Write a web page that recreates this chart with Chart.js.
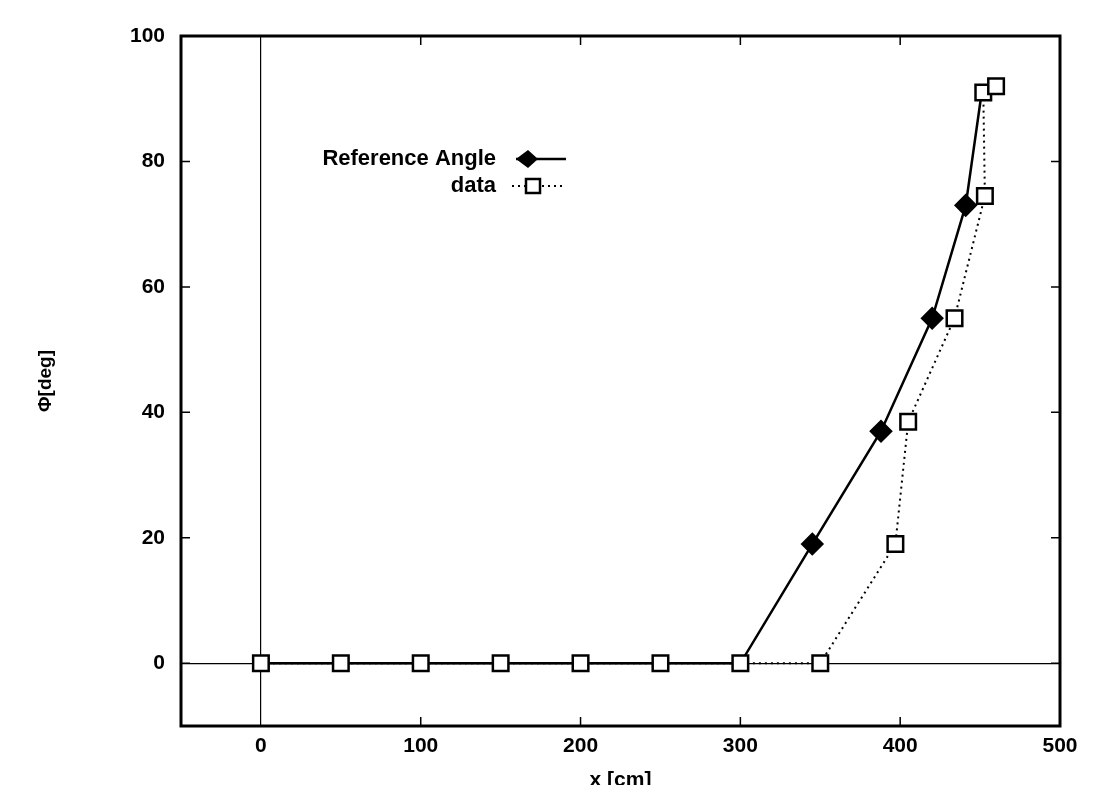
<!DOCTYPE html>
<html>
<head>
<meta charset="utf-8">
<script src="https://cdn.jsdelivr.net/npm/chart.js@4.4.1/dist/chart.umd.min.js"></script>
<style>
  html, body { margin: 0; padding: 0; background: #fff; }
  #wrap { width: 1109px; height: 785px; }
</style>
</head>
<body>
<div id="wrap"><canvas id="chart" width="1109" height="785"></canvas></div>
<script>
// Values
const refX = [0, 50, 100, 150, 200, 250, 300, 345, 388, 420, 441, 451, 459];
const refY = [0, 0, 0, 0, 0, 0, 0, 19, 37, 55, 73, 91, 92];
const dataX = [0, 50, 100, 150, 200, 250, 300, 350, 397, 405, 434, 453, 452, 460];
const dataY = [0, 0, 0, 0, 0, 0, 0, 0, 19, 38.5, 55, 74.5, 91, 92];
const xTicks = [0, 100, 200, 300, 400, 500];
const yTicks = [0, 20, 40, 60, 80, 100];

const font = "'Liberation Sans', Arial, sans-serif";

// frame + inward tick marks
const framePlugin = {
    id: "frame",
    afterDraw(chart) {
        const { ctx, chartArea: a, scales } = chart;
        ctx.save();
        ctx.strokeStyle = "#000";
        ctx.lineWidth = 1.5;
        xTicks.forEach(v => {
            const px = scales.x.getPixelForValue(v);
            if (v === 0 || v === 500) return;
            ctx.beginPath();
            ctx.moveTo(px, a.bottom); ctx.lineTo(px, a.bottom - 9);
            ctx.moveTo(px, a.top); ctx.lineTo(px, a.top + 9);
            ctx.stroke();
        });
        yTicks.forEach(v => {
            const py = scales.y.getPixelForValue(v);
            if (v === 100) return;
            ctx.beginPath();
            ctx.moveTo(a.left, py); ctx.lineTo(a.left + 9, py);
            ctx.moveTo(a.right, py); ctx.lineTo(a.right - 9, py);
            ctx.stroke();
        });
        ctx.lineWidth = 3;
        ctx.strokeRect(a.left, a.top, a.right - a.left, a.bottom - a.top);
        ctx.restore();
    }
};

// legend inside the plot, text first then sample
const legendPlugin = {
    id: "innerLegend",
    afterDraw(chart) {
        const { ctx } = chart;
        ctx.save();
        ctx.font = "bold 22px " + font;
        ctx.fillStyle = "#000";
        ctx.textAlign = "right";
        ctx.textBaseline = "middle";
        ctx.fillText("Reference Angle", 496, 159);
        ctx.fillText("data", 496, 186);

        ctx.strokeStyle = "#000";
        ctx.lineWidth = 2.5;
        ctx.beginPath();
        ctx.moveTo(516, 159); ctx.lineTo(566, 159);
        ctx.stroke();
        ctx.beginPath();
        ctx.moveTo(528, 150); ctx.lineTo(538, 159); ctx.lineTo(528, 168); ctx.lineTo(516, 159);
        ctx.closePath();
        ctx.fill();

        ctx.lineWidth = 2;
        ctx.setLineDash([2, 4]);
        ctx.beginPath();
        ctx.moveTo(512, 186); ctx.lineTo(566, 186);
        ctx.stroke();
        ctx.setLineDash([]);
        ctx.fillStyle = "#fff";
        ctx.lineWidth = 2.5;
        ctx.fillRect(526, 179, 14, 14);
        ctx.strokeRect(526, 179, 14, 14);
        ctx.restore();
    }
};

new Chart(document.getElementById("chart"), {
    type: "line",
    data: {
        datasets: [
            {
                label: "data",
                data: dataX.map((x, i) => ({ x, y: dataY[i] })),
                borderColor: "#000",
                borderWidth: 2,
                borderDash: [2, 4],
                pointStyle: "rect",
                pointRadius: 11,
                pointBorderWidth: 2.5,
                pointBackgroundColor: "#fff",
                pointBorderColor: "#000",
                order: 0
            },
            {
                label: "Reference Angle",
                data: refX.map((x, i) => ({ x, y: refY[i] })),
                borderColor: "#000",
                borderWidth: 2.5,
                pointStyle: "rectRot",
                pointRadius: refY.map(v => v > 0 && v < 90 ? 10 : 0),
                pointBackgroundColor: "#000",
                pointBorderColor: "#000",
                order: 1
            }
        ]
    },
    options: {
        responsive: false,
        animation: false,
        layout: { padding: { top: 36, right: 49, left: 0, bottom: 0 } },
        plugins: { legend: { display: false }, tooltip: { enabled: false } },
        scales: {
            x: {
                type: "linear",
                min: -50,
                max: 500,
                afterBuildTicks: s => { s.ticks = xTicks.map(v => ({ value: v })); },
                afterFit: s => { s.height = 59; },
                grid: {
                    color: c => c.tick && c.tick.value === 0 ? "#000" : "rgba(0,0,0,0)",
                    lineWidth: 1.2,
                    drawTicks: false
                },
                border: { display: false },
                ticks: { color: "#000", font: { family: font, size: 21, weight: "bold" }, padding: 8, maxRotation: 0 },
                title: { display: true, text: "x [cm]", color: "#000", font: { family: font, size: 21, weight: "bold" }, padding: { top: 0, bottom: -8 } }
            },
            y: {
                type: "linear",
                min: -10,
                max: 100,
                afterBuildTicks: s => { s.ticks = yTicks.map(v => ({ value: v })); },
                afterFit: s => { s.width = 181; },
                grid: {
                    color: c => c.tick && c.tick.value === 0 ? "#000" : "rgba(0,0,0,0)",
                    lineWidth: 1.2,
                    drawTicks: false
                },
                border: { display: false },
                ticks: { color: "#000", font: { family: font, size: 21, weight: "bold" }, padding: 16 },
                title: { display: true, text: "Φ[deg]", color: "#000", font: { family: font, size: 19, weight: "bold" }, padding: { top: 34, bottom: 0 } }
            }
        }
    },
    plugins: [framePlugin, legendPlugin]
});
</script>
</body>
</html>
